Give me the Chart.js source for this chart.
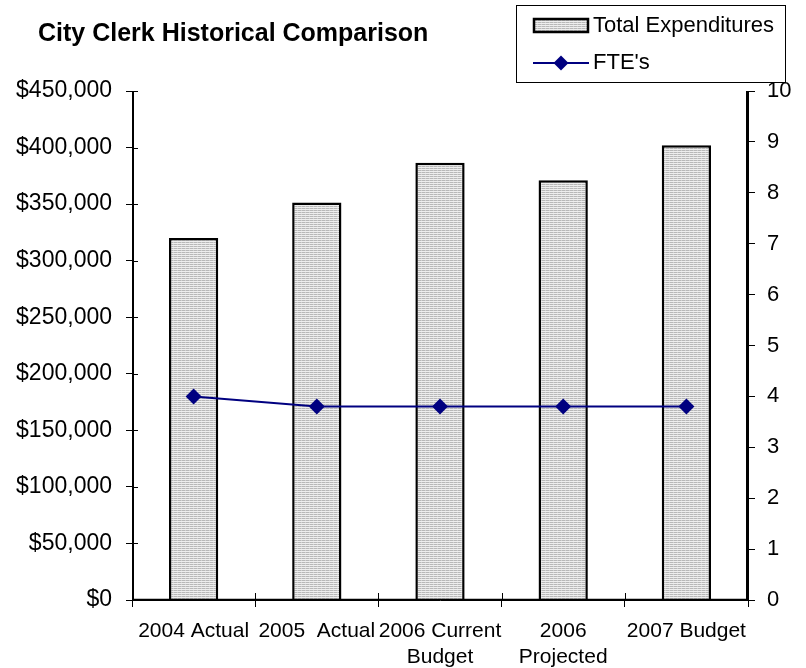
<!DOCTYPE html>
<html>
<head>
<meta charset="utf-8">
<script src="https://cdn.jsdelivr.net/npm/chart.js@4"></script>
<style>
  html, body { margin: 0; padding: 0; background: #fff; }
  #wrap { width: 806px; height: 668px; }
</style>
</head>
<body>
<div id="wrap"><canvas id="c" width="806" height="668"></canvas></div>
<script>
const chartTitle = "City Clerk Historical Comparison";
const categories = ["2004 Actual", "2005  Actual", ["2006 Current", "Budget"], ["2006", "Projected"], "2007 Budget"];
const expenditures = [320000, 351500, 386500, 371000, 402000];
const ftes = [4, 3.8, 3.8, 3.8, 3.8];
const leftTicks = { min: 0, max: 450000, step: 50000 };
const rightTicks = { min: 0, max: 10, step: 1 };

const FONT = "'Liberation Sans', Arial, sans-serif";

function makePattern() {
  const p = document.createElement('canvas');
  p.width = 4; p.height = 2;
  const g = p.getContext('2d');
  g.fillStyle = '#eeeeee'; g.fillRect(0, 0, 4, 2);
  g.fillStyle = '#b8b8b8'; g.fillRect(0, 0, 4, 1);
  g.fillStyle = '#d0d0d0'; g.fillRect(1, 0, 1, 1);
  return document.getElementById('c').getContext('2d').createPattern(p, 'repeat');
}
const barFill = makePattern();

const decorPlugin = {
  id: 'decor',
  afterDraw(chart) {
    const ctx = chart.ctx;
    const ca = chart.chartArea;
    ctx.save();
    ctx.strokeStyle = '#000';
    // axis lines
    ctx.lineWidth = 2;
    ctx.beginPath();
    ctx.moveTo(ca.left + 1, ca.top); ctx.lineTo(ca.left + 1, ca.bottom + 1);
    ctx.moveTo(ca.right - 1, ca.top); ctx.lineTo(ca.right - 1, ca.bottom + 1);
    ctx.stroke();
    ctx.lineWidth = 1.5;
    ctx.beginPath();
    ctx.moveTo(ca.left, ca.bottom - 0.5); ctx.lineTo(ca.right, ca.bottom - 0.5);
    ctx.stroke();
    ctx.lineWidth = 1;
    // inner tick parts (crossing ticks)
    const yl = chart.scales.y;
    yl.ticks.forEach((t, i) => {
      const py = Math.round(yl.getPixelForTick(i)) + 0.5;
      ctx.beginPath(); ctx.moveTo(ca.left, py); ctx.lineTo(ca.left + 6, py); ctx.stroke();
    });
    const n = chart.data.labels.length;
    const w = (ca.right - ca.left) / n;
    for (let i = 0; i <= n; i++) {
      const px = Math.round(ca.left + i * w) + 0.5;
      ctx.beginPath(); ctx.moveTo(px, ca.bottom); ctx.lineTo(px, ca.bottom - 7); ctx.stroke();
    }
    // title
    ctx.fillStyle = '#000';
    ctx.font = "bold 25px " + FONT;
    ctx.textBaseline = 'middle';
    ctx.textAlign = 'left';
    ctx.fillText(chartTitle, 38, 34);
    // legend box
    ctx.strokeStyle = '#000';
    ctx.lineWidth = 1;
    ctx.strokeRect(516.5, 5.5, 269, 77);
    const ds = chart.data.datasets;
    const barDs = ds.find(d => d.type === 'bar');
    const lineDs = ds.find(d => d.type === 'line');
    // bar swatch
    ctx.fillStyle = barFill;
    ctx.fillRect(534, 19, 54, 13);
    ctx.lineWidth = 2.5;
    ctx.strokeStyle = '#000';
    ctx.strokeRect(534, 19, 54, 13);
    ctx.fillStyle = '#000';
    ctx.font = "22px " + FONT;
    ctx.fillText(barDs.label, 593, 26);
    // line swatch
    ctx.strokeStyle = '#000080';
    ctx.lineWidth = 2;
    ctx.beginPath(); ctx.moveTo(533, 63); ctx.lineTo(589, 63); ctx.stroke();
    ctx.fillStyle = '#000080';
    ctx.beginPath();
    ctx.moveTo(561, 55.5); ctx.lineTo(568.5, 63); ctx.lineTo(561, 70.5); ctx.lineTo(553.5, 63); ctx.closePath();
    ctx.fill();
    ctx.fillStyle = '#000';
    ctx.fillText(lineDs.label, 593, 63);
    ctx.restore();
  }
};

new Chart(document.getElementById('c'), {
  type: 'bar',
  data: {
    labels: categories,
    datasets: [
      {
        type: 'bar',
        label: 'Total Expenditures',
        data: expenditures,
        yAxisID: 'y',
        backgroundColor: barFill,
        borderColor: '#000',
        borderWidth: 2.5,
        barPercentage: 0.4,
        categoryPercentage: 1.0,
        order: 1
      },
      {
        type: 'line',
        label: "FTE's",
        data: ftes,
        yAxisID: 'y1',
        borderColor: '#000080',
        backgroundColor: '#000080',
        borderWidth: 2,
        pointStyle: 'rectRot',
        pointRadius: 8,
        pointBorderWidth: 0,
        pointBackgroundColor: '#000080',
        tension: 0,
        order: 0
      }
    ]
  },
  options: {
    responsive: false,
    animation: false,
    devicePixelRatio: 1,
    layout: { padding: { top: 91, left: 0, right: 0, bottom: 0 } },
    plugins: {
      legend: { display: false },
      title: { display: false },
      tooltip: { enabled: false }
    },
    scales: {
      x: {
        grid: { display: true, drawOnChartArea: false, drawTicks: true, tickLength: 7, color: '#000', offset: true },
        border: { display: true, color: '#000', width: 1 },
        ticks: { color: '#000', font: { family: FONT, size: 21, lineHeight: 1.2 }, maxRotation: 0, minRotation: 0, autoSkip: false, padding: 12 },
        afterFit(s) { s.height = 68; }
      },
      y: {
        position: 'left',
        min: leftTicks.min, max: leftTicks.max,
        grid: { display: true, drawOnChartArea: false, drawTicks: true, tickLength: 6, color: '#000' },
        border: { display: true, color: '#000', width: 1 },
        ticks: {
          stepSize: leftTicks.step, color: '#000', padding: 14,
          font: { family: FONT, size: 23 },
          callback: v => '$' + v.toLocaleString('en-US')
        },
        afterFit(s) { s.width = 132; }
      },
      y1: {
        position: 'right',
        min: rightTicks.min, max: rightTicks.max,
        grid: { display: true, drawOnChartArea: false, drawTicks: true, tickLength: 7, color: '#000' },
        border: { display: true, color: '#000', width: 1 },
        ticks: { stepSize: rightTicks.step, color: '#000', padding: 12, font: { family: FONT, size: 22 } },
        afterFit(s) { s.width = 58; }
      }
    }
  },
  plugins: [decorPlugin]
});
</script>
</body>
</html>
